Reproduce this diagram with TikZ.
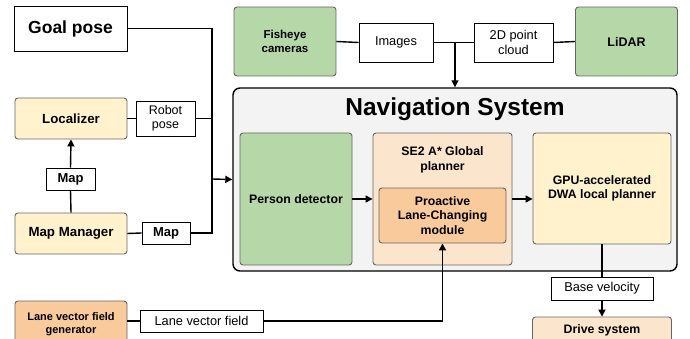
\documentclass[tikz,border=0pt]{standalone}
\usepackage{fontspec}
\setmainfont{Liberation Sans}
\usetikzlibrary{arrows.meta}
\usetikzlibrary{calc}

\definecolor{boxgreen}{HTML}{B6D7A8}
\definecolor{boxyellow}{HTML}{FFF2CC}
\definecolor{boxpeach}{HTML}{FCE5CD}
\definecolor{boxorange}{HTML}{F9CB9C}
\definecolor{navgray}{HTML}{F3F3F3}
\definecolor{rimgray}{HTML}{666666}

\begin{document}
\begin{tikzpicture}[x=1pt, y=-1pt,
  block/.style={draw=rimgray, line width=0.9pt, rounded corners=3pt, align=center,
    inner sep=0pt, font=\fontsize{12.3}{14.5}\selectfont\bfseries},
  tag/.style={draw, line width=0.8pt, fill=white, align=center, inner sep=0pt,
    font=\fontsize{12.8}{15}\selectfont},
  wire/.style={line width=1.4pt},
  feed/.style={wire, -{Triangle[length=7pt, width=7pt]}}]

\useasboundingbox (0, 0) rectangle (690, 339);

% navigation system frame
\node[draw, line width=1.4pt, rounded corners=7pt, fill=navgray, minimum width=444, minimum height=183] (nav) at (455, 179.5) {};
\node[font=\fontsize{24.5}{28}\selectfont\bfseries] (navtitle) at (455, 109) {Navigation System};

\node[block, fill=boxgreen, minimum width=112, minimum height=132] (person) at (296, 199) {Person detector};
\node[block, fill=boxpeach, minimum width=139, minimum height=132] (se2) at (442.5, 199) {};
\node[font=\fontsize{12.3}{14.5}\selectfont\bfseries, align=center] (se2title) at (442.5, 160) {SE2 A* Global\\planner};
\node[block, fill=boxorange, minimum width=127, minimum height=55] (pro) at (442.5, 215.5) {Proactive\\Lane-Changing\\module};
\node[block, fill=boxyellow, minimum width=138, minimum height=111] (gpu) at (602, 188.5) {GPU-accelerated\\DWA local planner};

% sensors
\node[block, fill=boxgreen, minimum width=102, minimum height=69, font=\fontsize{11.5}{14}\selectfont\bfseries] (fish) at (285, 41.5) {Fisheye\\cameras};
\node[block, fill=boxgreen, minimum width=102, minimum height=69, font=\fontsize{12.5}{14}\selectfont\bfseries] (lidar) at (626.5, 41.5) {LiDAR};
\node[tag, minimum width=74, minimum height=39] (images) at (396, 42.5) {Images};
\node[tag, minimum width=79, minimum height=39] (cloud) at (513.5, 42.5) {2D point\\cloud};

% left column
\node[draw, line width=0.9pt, fill=white, minimum width=113, minimum height=45, font=\fontsize{17.5}{20}\selectfont\bfseries] (goal) at (70.5, 28.5) {Goal pose};
\node[block, fill=boxyellow, minimum width=112, minimum height=41, font=\fontsize{13.3}{15}\selectfont\bfseries] (loc) at (71, 118.5) {Localizer};
\node[tag, minimum width=59, minimum height=35, font=\fontsize{12.5}{14.5}\selectfont] (robotpose) at (165.5, 118.5) {Robot\\pose};
\node[tag, minimum width=49, minimum height=22, font=\fontsize{13}{15}\selectfont\bfseries] (mapup) at (70.5, 179) {Map};
\node[block, fill=boxyellow, minimum width=112, minimum height=41, font=\fontsize{13.3}{15}\selectfont\bfseries] (mapmgr) at (71, 233.5) {Map Manager};
\node[tag, minimum width=48, minimum height=22, font=\fontsize{13}{15}\selectfont\bfseries] (mapright) at (166, 233) {Map};
\node[block, fill=boxorange, minimum width=112, minimum height=46, font=\fontsize{11}{13.5}\selectfont\bfseries] (lvfg) at (71, 324) {Lane vector field\\generator};
\node[tag, minimum width=123, minimum height=22] (lvf) at (201.5, 321) {Lane vector field};

% outputs
\node[tag, minimum width=102, minimum height=23] (basevel) at (602, 288.5) {Base velocity};
\node[block, fill=boxpeach, minimum width=139, minimum height=26] (drive) at (602, 330) {Drive system};

\coordinate (bus) at (212, 179);
\coordinate (join) at (455, 42.5);

\draw[wire] (goal.east) -| (bus);
\draw[wire] (mapright.east) -| (bus);
\draw[wire] (robotpose.east) -- (robotpose.east -| bus);
\draw[feed] (bus) -- (nav.west);
\draw[wire] (loc.east) -- (robotpose.west);
\draw[wire] (mapmgr.north) -- (mapup.south);
\draw[feed] (mapup.north) -- (loc.south);
\draw[wire] (mapmgr.east) -- (mapright.west);

\draw[wire] (fish.east) -- (images.west);
\draw[wire] (images.east) -- (cloud.west);
\draw[wire] (cloud.east) -- (lidar.west);
\draw[feed] (join) -- (join |- nav.north);

\draw[feed] (person.east) -- (se2.west);
\draw[feed] (se2.east) -- (se2.east -| gpu.west);
\draw[wire] (lvfg.east |- lvf.west) -- (lvf.west);
\draw[feed] (lvf.east) -| (pro.south);
\draw[wire] (gpu.south) -- (basevel.north);
\draw[feed] (basevel.south) -- (drive.north);

\end{tikzpicture}
\end{document}
